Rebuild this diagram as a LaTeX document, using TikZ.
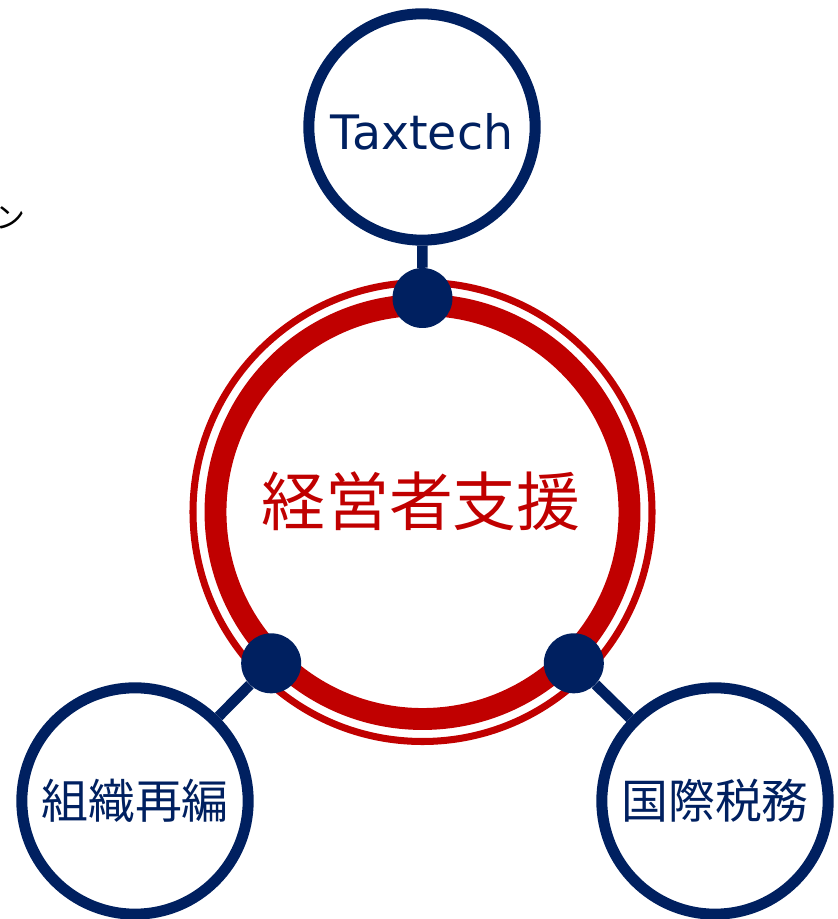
\documentclass[tikz,border=0pt]{standalone}
\usepackage{fontspec}
\usepackage{tikz}
\newfontfamily\jpfont{Noto Sans CJK JP}
\newfontfamily\latinfont{DejaVu Sans}
\definecolor{navy}{HTML}{002060}
\definecolor{deepred}{HTML}{C00000}
\tikzset{
  topic/.style={circle, draw=navy, text=navy, line width=9.4pt, inner sep=0pt,
    minimum size=6.79cm, font=\jpfont\fontsize{40}{44}\selectfont},
  joint/.style={circle, fill=navy, inner sep=0pt, minimum size=1.8cm},
  stem/.style={navy, line width=9pt}
}

\begin{document}
\begin{tikzpicture}[x=0.03cm, y=0.03cm]
      \useasboundingbox (0,0) rectangle (838,919);
      \coordinate (hub) at (422.5,407);
      \draw[deepred, line width=6pt] (hub) circle [radius=6.885cm];
      \draw[deepred, line width=18.7pt] (hub) circle [radius=6.21cm];
      \node[text=deepred, font=\jpfont\fontsize{54.5}{60}\selectfont] (core) at (421,418) {経営者支援};

      \node[anchor=base west, inner sep=0pt, font=\jpfont\fontsize{25.5}{28}\selectfont] (edge) at (-5,690) {ン};

      \node[topic, text height=39pt, text depth=0pt, font=\latinfont\fontsize{40.5}{44}\selectfont] (tax) at (422,792) {Taxtech};
      \node[topic] (org) at (135,118) {組織再編};
      \node[topic] (intl) at (715,118) {国際税務};

      \node[joint] (jtax) at ([shift={(90:214)}]hub) {};
      \node[joint] (jorg) at ([shift={(225:214)}]hub) {};
      \node[joint] (jintl) at ([shift={(315:214)}]hub) {};

      \draw[stem] (jtax) -- (tax);
      \draw[stem] (jorg) -- (org);
      \draw[stem] (jintl) -- (intl);
\end{tikzpicture}
\end{document}
